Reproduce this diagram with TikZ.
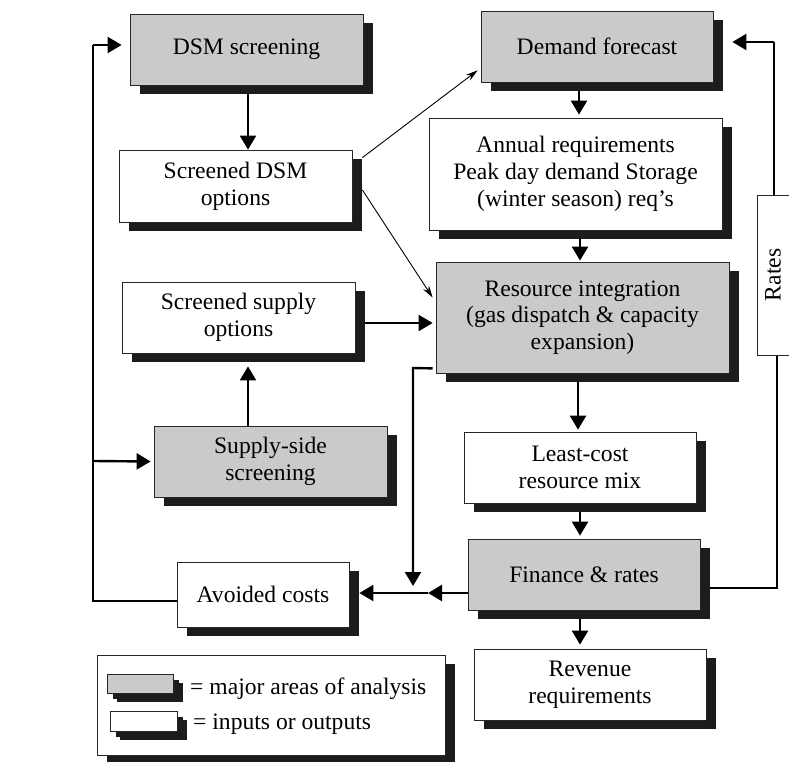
\documentclass[tikz,border=0pt]{standalone}
\usepackage{fontspec}
\setmainfont{Liberation Serif}
\usetikzlibrary{arrows.meta,shadows,calc,backgrounds}
\definecolor{boxgray}{RGB}{202,202,202}
\definecolor{shadowc}{RGB}{28,28,28}
\tikzset{
  base/.style={draw=black!85, line width=0.8pt, align=center, inner sep=0pt,
    font=\fontsize{23.6}{26.7}\selectfont,
    drop shadow={shadow xshift=10pt, shadow yshift=-9pt, fill=shadowc, opacity=1}},
  major/.style={base, fill=boxgray},
  io/.style={base, fill=white},
  arr/.style={line width=2.4pt, -{Triangle[width=16pt,length=14pt]}},
  plain/.style={line width=2.4pt},
  thin/.style={line width=0.9pt, -{Stealth[width=7pt,length=12pt]}},
}
\begin{document}
\begin{tikzpicture}[x=1pt,y=-1pt]
\useasboundingbox (0,0) rectangle (789,762);

% major areas
\node[major, minimum width=233pt, minimum height=71pt] (dsmscr) at (246.5,49.5) {DSM screening};
\node[major, minimum width=232pt, minimum height=71pt] (demand) at (597,46.5) {Demand forecast};
\node[major, minimum width=293pt, minimum height=111pt] (resint) at (582.5,317.5) {Resource integration\\(gas dispatch \& capacity\\expansion)};
\node[major, minimum width=233pt, minimum height=71pt] (supscr) at (270.5,461.5) {Supply-side\\screening};
\node[major, minimum width=232pt, minimum height=71pt] (finance) at (584,574.5) {Finance \& rates};

% inputs / outputs
\node[io, minimum width=233pt, minimum height=72pt] (dsmopt) at (235.5,186) {Screened DSM\\options};
\node[io, minimum width=293pt, minimum height=112pt] (annual) at (575.5,174) {Annual requirements\\Peak day demand Storage\\(winter season) req's};
\node[io, minimum width=233pt, minimum height=71pt] (supopt) at (238.5,317.5) {Screened supply\\options};
\node[io, minimum width=232pt, minimum height=71pt] (least) at (580,467.5) {Least-cost\\resource mix};
\node[io, minimum width=172pt, minimum height=65pt] (avoided) at (263,594.5) {Avoided costs};
\node[io, minimum width=232pt, minimum height=71pt] (revenue) at (590,684.5) {Revenue\\requirements};
\node[draw=black!85, line width=0.8pt, fill=white, minimum width=36pt, minimum height=160pt, inner sep=0pt] (rates) at (775,275) {};
\node[rotate=90, font=\fontsize{23.6}{26.7}\selectfont] (ratestxt) at (773,275) {Rates};

% legend
\node[io, minimum width=348pt, minimum height=100pt] (legend) at (271,705) {};
\node[major, minimum width=66pt, minimum height=19pt, drop shadow={shadow xshift=6pt, shadow yshift=-6pt, fill=shadowc, opacity=1}] (lgray) at (140,683.5) {};
\node[io, minimum width=67pt, minimum height=20pt, drop shadow={shadow xshift=6pt, shadow yshift=-6pt, fill=shadowc, opacity=1}] (lwhite) at (143.5,721) {};
\node[anchor=west, inner sep=0pt, font=\fontsize{23.6}{26.7}\selectfont] (ltext1) at (190,689) {= major areas of analysis};
\node[anchor=west, inner sep=0pt, font=\fontsize{23.6}{26.7}\selectfont] (ltext2) at (193,724) {= inputs or outputs};

% junction coordinates
\coordinate (loopTop) at (93,45);
\coordinate (loopMid) at (93,461);
\coordinate (loopBot) at (93,601);
\coordinate (dropTop) at (413,368);
\coordinate (dropEnd) at (413,586);
\coordinate (midTip) at (428,593);
\coordinate (rateBot) at (777,588);
\coordinate (rateTop) at (774,42);

\begin{scope}[on background layer]
% left feedback loop
\draw[plain] ($(avoided.west)+(0,6.5)$) -- (loopBot) -- (loopTop);
\draw[arr] (loopTop) -- ($(dsmscr.west)+(-8,-4.5)$);
\draw[arr] (loopMid) -- ($(supscr.west)+(-3,0)$);
% DSM chain
\draw[arr] ($(dsmscr.south)+(1.5,0)$) -- ($(dsmopt.north)+(12.5,0)$);
\draw[thin] ($(dsmopt.north east)+(10,8)$) -- ($(demand.south west)+(-3,-12)$);
\draw[thin] ($(dsmopt.east)+(10,4)$) -- ($(resint.west)+(-3,-20)$);
% demand chain
\draw[arr] ($(demand.south)+(-18,0)$) -- ($(annual.north)+(3.5,-3)$);
\draw[arr] ($(annual.south)+(4.5,0)$) -- ($(resint.north)+(-2.5,-1)$);
\draw[arr] ($(resint.south)+(-4.5,0)$) -- ($(least.north)+(-2,-2)$);
\draw[arr] (least.south) -- ($(finance.north)+(-4,-3)$);
\draw[arr] ($(finance.south)+(-4,0)$) -- ($(revenue.north)+(-10,-4)$);
% supply chain
\draw[arr] ($(supopt.east)+(10,5.5)$) -- ($(resint.west)+(-3,5.5)$);
\draw[arr] ($(supscr.north)+(-22.5,0)$) -- ($(supopt.south)+(9.5,13)$);
% avoided costs feed
\draw[arr] ($(resint.south west)+(-3,-5)$) -- (dropTop) -- (dropEnd);
\draw[arr] ($(finance.west)+(0,18.5)$) -- (midTip);
\draw[arr] (midTip) -- ($(avoided.east)+(10,-1.5)$);
% rates loop
\draw[plain] ($(finance.east)+(0,13.5)$) -- (rateBot) -- (rateBot |- rates.south);
\draw[plain] (rateTop |- rates.north) -- (rateTop);
\draw[arr] (rateTop) -- ($(demand.east)+(19,-4.5)$);
\end{scope}
\end{tikzpicture}
\end{document}
